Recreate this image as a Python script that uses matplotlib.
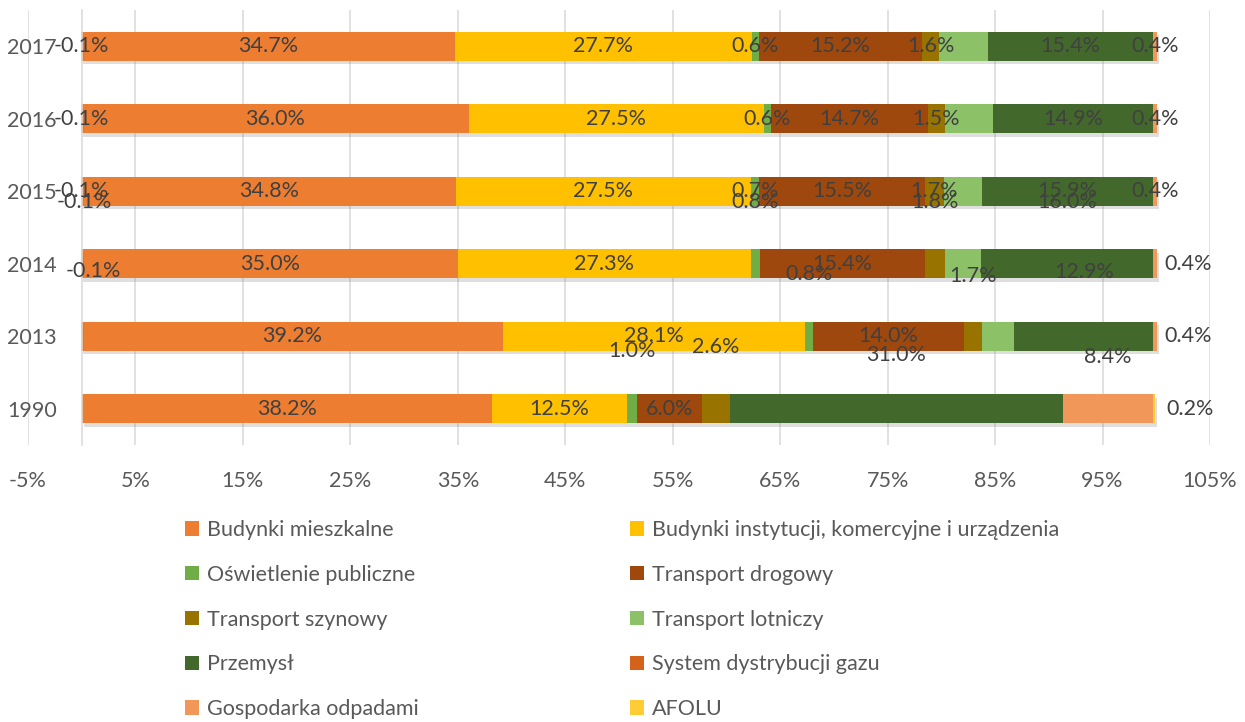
"""Struktura emisji wg sektorow (1990, 2013-2017) - poziomy wykres skumulowany."""

import numpy as np
import matplotlib

matplotlib.use("Agg")

import matplotlib.pyplot as plt
import matplotlib.patheffects as pe
from matplotlib.patches import Patch

plt.rcParams["font.family"] = ["Lato", "DejaVu Sans"]

LATA = ["2017", "2016", "2015", "2014", "2013", "1990"]

KATEGORIE = [
    "Budynki mieszkalne",
    "Budynki instytucji, komercyjne i urządzenia",
    "Oświetlenie publiczne",
    "Transport drogowy",
    "Transport szynowy",
    "Transport lotniczy",
    "Przemysł",
    "System dystrybucji gazu",
    "Gospodarka odpadami",
    "AFOLU",
]

# udzialy w %, kolejnosc jak LATA
MIESZKALNE = [34.7, 36.0, 34.8, 35.0, 39.2, 38.2]
INSTYTUCJE = [27.7, 27.5, 27.5, 27.3, 28.1, 12.5]
OSWIETLENIE = [0.6, 0.6, 0.7, 0.8, 0.8, 1.0]
DROGOWY = [15.2, 14.7, 15.5, 15.4, 14.0, 6.0]
SZYNOWY = [1.6, 1.5, 1.7, 1.8, 1.7, 2.6]
LOTNICZY = [4.5, 4.5, 3.6, 3.4, 3.0, 0.0]
PRZEMYSL = [15.4, 14.9, 15.9, 16.0, 12.9, 31.0]
GAZ = [0.0, 0.0, 0.0, 0.0, 0.0, 0.0]
ODPADY = [0.4, 0.4, 0.4, 0.4, 0.4, 8.4]
AFOLU = [-0.1, -0.1, -0.1, -0.1, -0.1, 0.2]

OS_X = [-5, 5, 15, 25, 35, 45, 55, 65, 75, 85, 95, 105]

KOLORY = ["#ED7D31", "#FFC000", "#70AD47", "#9E480E", "#997300",
          "#8CC168", "#43682B", "#D5621A", "#F1975A", "#FFCD33"]

# etykiety: (wiersz, kategoria, przesuniecie x w %, przesuniecie y w wierszach)
# Excel porozrzucal czesc etykiet o wiersz wyzej - odtwarzamy to
ETYKIETY = (
    [(w, k, 0, 0) for w in (0, 1, 2) for k in (0, 1, 2, 3, 4, 6, 8, 9)]
    + [(3, 0, 0, 0), (3, 1, 0, 0), (3, 3, 0, 0), (3, 2, 0, -0.85), (3, 4, 0, -0.85),
       (3, 6, 0, -0.85), (3, 9, 0.3, -0.85), (3, 8, 3.1, 0)]
    + [(4, 0, 0, 0), (4, 1, 0, 0), (4, 3, 0, 0), (4, 2, 0, -0.86), (4, 4, 0, -0.83),
       (4, 6, 0, -0.88), (4, 9, 1.1, -0.9), (4, 8, 3.1, 0)]
    + [(5, 0, 0, 0), (5, 1, 0, 0), (5, 3, 0, 0), (5, 2, 0, -0.79), (5, 4, 0, -0.85),
       (5, 6, 0, -0.74), (5, 8, 0, -0.72), (5, 9, 3.3, 0)]
)

SZARY_SIATKA = "#D9D9D9"
SZARY_TEKST = "#595959"
SZARY_ETYKIETA = "#404040"
FONT = 15.5


def main() -> int:
    serie = [MIESZKALNE, INSTYTUCJE, OSWIETLENIE, DROGOWY, SZYNOWY,
             LOTNICZY, PRZEMYSL, GAZ, ODPADY, AFOLU]
    dane = np.array(serie, dtype=float)  # (kategorie, lata)
    y = np.arange(len(LATA))

    fig = plt.figure(figsize=(12.45, 7.22), dpi=100)
    ax = fig.add_axes([28 / 1245, 277 / 722, 1182 / 1245, 435 / 722])

    cien = [pe.SimplePatchShadow(offset=(1.5, -2.5), shadow_rgbFace="#808080", alpha=0.25),
            pe.Normal()]

    lewo_plus = np.zeros(len(LATA))
    lewo_minus = np.zeros(len(LATA))
    srodki = np.zeros_like(dane)
    for k, wartosci in enumerate(dane):
        start = np.where(wartosci >= 0, lewo_plus, lewo_minus)
        slupki = ax.barh(y, wartosci, left=start, height=0.4, color=KOLORY[k],
                         zorder=2)
        for s in slupki:
            s.set_path_effects(cien)
        srodki[k] = start + wartosci / 2
        lewo_plus = np.where(wartosci >= 0, lewo_plus + wartosci, lewo_plus)
        lewo_minus = np.where(wartosci < 0, lewo_minus + wartosci, lewo_minus)

    for w, k, dx, dy in ETYKIETY:
        ax.text(srodki[k, w] + dx, y[w] + dy, f"{dane[k, w]:.1f}%",
                ha="center", va="center", fontsize=FONT, color=SZARY_ETYKIETA,
                zorder=5, clip_on=False)

    ax.set_xlim(-5, 105)
    ax.set_ylim(len(LATA) - 0.5, -0.5)
    ax.set_xticks(OS_X)
    ax.set_xticklabels([f"{t}%" for t in OS_X])
    ax.set_yticks(y)
    ax.set_yticklabels(LATA)
    ax.xaxis.grid(True, color=SZARY_SIATKA, linewidth=1.1)
    ax.set_axisbelow(True)

    for nazwa in ("top", "right", "bottom"):
        ax.spines[nazwa].set_visible(False)
    ax.spines["left"].set_position(("data", 0))
    ax.spines["left"].set_color(SZARY_SIATKA)
    ax.spines["left"].set_linewidth(1.1)
    ax.tick_params(axis="x", length=0, pad=19, labelsize=FONT, labelcolor=SZARY_TEKST)
    ax.tick_params(axis="y", length=0, pad=18, labelsize=FONT, labelcolor=SZARY_TEKST)

    uchwyty = [Patch(facecolor=c, edgecolor="none") for c in KOLORY]
    kolejnosc = [0, 2, 4, 6, 8, 1, 3, 5, 7, 9]
    fig.legend([uchwyty[i] for i in kolejnosc], [KATEGORIE[i] for i in kolejnosc],
               ncol=2, loc="upper left", bbox_to_anchor=(185 / 1245, 1 - 520 / 722),
               frameon=False, fontsize=FONT, labelcolor=SZARY_TEKST,
               handlelength=0.65, handleheight=0.65, handletextpad=0.35,
               labelspacing=1.15, columnspacing=9.85, borderpad=0, borderaxespad=0)

    fig.savefig("out.png", dpi=100, facecolor="white")
    return 0


if __name__ == "__main__":
    raise SystemExit(main())
